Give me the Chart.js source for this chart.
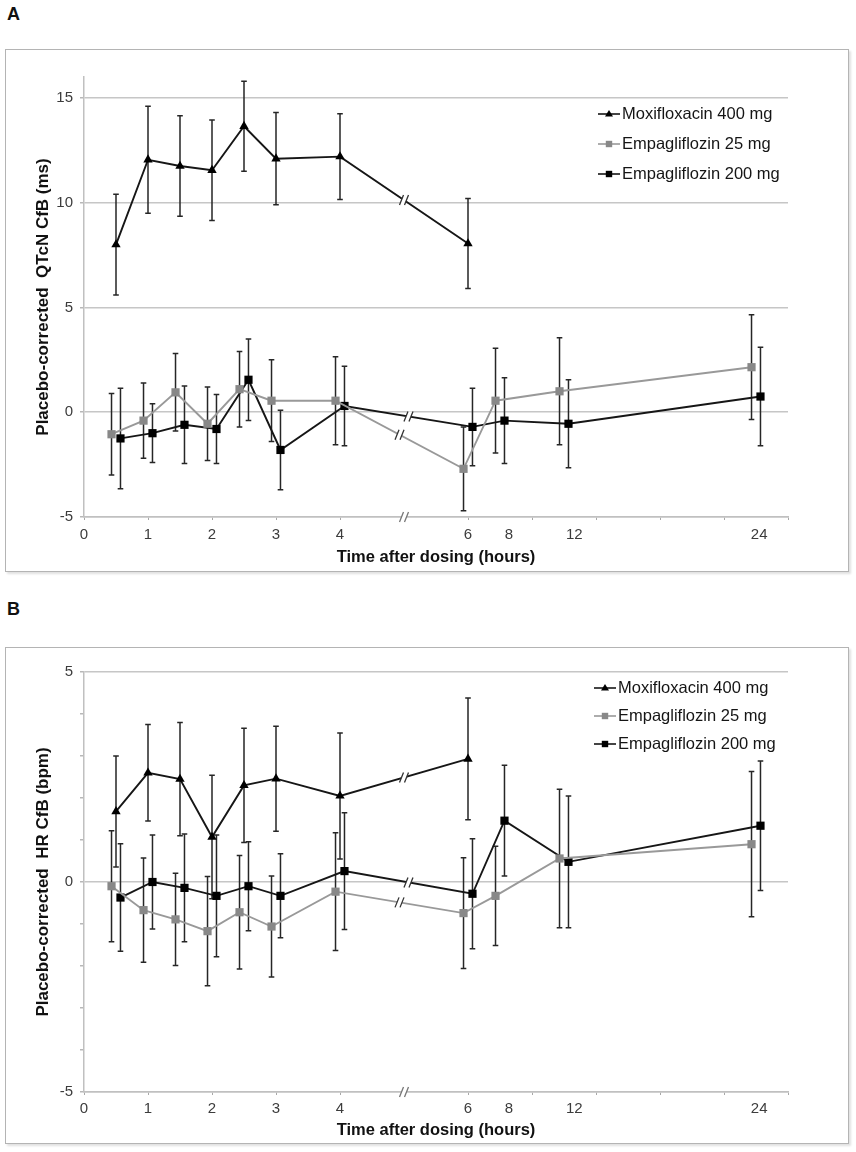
<!DOCTYPE html>
<html>
<head>
<meta charset="utf-8">
<script src="https://cdn.jsdelivr.net/npm/chart.js@4.4.0/dist/chart.umd.min.js"></script>
<style>
  body { margin: 0; background: #fff; width: 856px; height: 1152px; position: relative; font-family: "Liberation Sans", Arial, sans-serif; }
  .panel-label { position: absolute; left: 7px; font-size: 18px; font-weight: bold; line-height: 1; color: #111; }
  .box { position: absolute; left: 5px; width: 842px; border: 1px solid #b4b4b4; box-shadow: 2px 2px 2px rgba(0,0,0,0.12); }
  .box canvas { display: block; }
</style>
</head>
<body>
<div class="panel-label" style="top:5px">A</div>
<div class="box" style="top:49px; height:521px"><canvas id="chartA" width="842" height="521"></canvas></div>
<div class="panel-label" style="top:600px">B</div>
<div class="box" style="top:647px; height:495px"><canvas id="chartB" width="842" height="495"></canvas></div>

<script>
// sampling times (hours)
const hoursEmpa = [0.5, 1, 1.5, 2, 2.5, 3, 4, 6, 8, 12, 24];
const hoursMoxi = [0.5, 1, 1.5, 2, 2.5, 3, 4, 6];

// broken time axis: nominal hours -> axis slot
const axisHours = [0, 1, 2, 3, 4, 6, 8, 12, 24];
const axisSlots = [0, 1, 2, 3, 4, 6, 6.5, 7.5, 10.5];
const tickLabels = ['0', '1', '2', '3', '4', '6', '8', '12', '24'];
const tickLabelSlots = [0, 1, 2, 3, 4, 6, 6.64, 7.66, 10.55];
const tickMarkSlots = [0, 1, 2, 3, 4, 5, 6, 7, 8, 9, 10, 11];

const seriesNames = ['Moxifloxacin 400 mg', 'Empagliflozin 25 mg', 'Empagliflozin 200 mg'];

// Panel A: placebo-corrected QTcN change from baseline (ms), mean and error
const qtMoxi = [8.0, 12.05, 11.75, 11.55, 13.65, 12.1, 12.2, 8.05];
const qtMoxiErr = [2.4, 2.55, 2.4, 2.4, 2.15, 2.2, 2.05, 2.15];
const qtEmpa25 = [-1.05, -0.4, 0.95, -0.55, 1.1, 0.55, 0.55, -2.7, 0.55, 1.0, 2.15];
const qtEmpa25Err = [1.95, 1.8, 1.85, 1.75, 1.8, 1.95, 2.1, 2.0, 2.5, 2.55, 2.5];
const qtEmpa200 = [-1.25, -1.0, -0.6, -0.8, 1.55, -1.8, 0.3, -0.7, -0.4, -0.55, 0.75];
const qtEmpa200Err = [2.4, 1.4, 1.85, 1.65, 1.95, 1.9, 1.9, 1.85, 2.05, 2.1, 2.35];

// Panel B: placebo-corrected HR change from baseline (bpm)
const hrMoxi = [1.68, 2.6, 2.45, 1.07, 2.3, 2.46, 2.05, 2.93];
const hrMoxiErr = [1.32, 1.15, 1.35, 1.47, 1.36, 1.25, 1.5, 1.45];
const hrEmpa25 = [-0.1, -0.67, -0.89, -1.17, -0.72, -1.06, -0.23, -0.74, -0.33, 0.56, 0.9];
const hrEmpa25Err = [1.32, 1.24, 1.1, 1.3, 1.35, 1.2, 1.4, 1.32, 1.18, 1.65, 1.73];
const hrEmpa200 = [-0.37, 0.0, -0.14, -0.33, -0.1, -0.33, 0.26, -0.28, 1.46, 0.48, 1.34];
const hrEmpa200Err = [1.28, 1.12, 1.28, 1.45, 1.06, 1.0, 1.39, 1.31, 1.32, 1.57, 1.54];

const FONT = '"Liberation Sans", Arial, sans-serif';
Chart.defaults.font.family = FONT;

function toSlot(h) {
    for (let i = 0; i < axisHours.length - 1; i++) {
        if (h <= axisHours[i + 1]) {
            const f = (h - axisHours[i]) / (axisHours[i + 1] - axisHours[i]);
            return axisSlots[i] + f * (axisSlots[i + 1] - axisSlots[i]);
        }
    }
    return axisSlots[axisSlots.length - 1];
}

function makeSeries(label, hours, vals, errs, dx, style) {
    return Object.assign({
        label: label,
        hours: hours,
        errors: errs,
        data: hours.map((h, i) => ({ x: toSlot(h) + dx, y: vals[i] })),
        tension: 0,
        borderWidth: 1.9,
        pointBorderWidth: 0,
        fill: false
    }, style);
}

const moxiStyle = { borderColor: '#161616', pointBackgroundColor: '#000', pointBorderColor: '#000', pointStyle: 'triangle', pointRadius: 5.4 };
const empa25Style = { borderColor: '#999999', pointBackgroundColor: '#888888', pointBorderColor: '#888888', pointStyle: 'rect', pointRadius: 5.8 };
const empa200Style = { borderColor: '#161616', pointBackgroundColor: '#000', pointBorderColor: '#000', pointStyle: 'rect', pointRadius: 5.8 };

// vertical error bars with caps
const errorBarPlugin = {
    id: 'errorBars',
    beforeDatasetsDraw(chart) {
        const ctx = chart.ctx;
        const y = chart.scales.y;
        ctx.save();
        ctx.strokeStyle = '#262626';
        ctx.lineWidth = 1.5;
        chart.data.datasets.forEach((ds, i) => {
            const meta = chart.getDatasetMeta(i);
            meta.data.forEach((pt, j) => {
                const v = ds.data[j].y, e = ds.errors[j];
                const top = y.getPixelForValue(v + e), bot = y.getPixelForValue(v - e);
                ctx.beginPath();
                ctx.moveTo(pt.x, top); ctx.lineTo(pt.x, bot);
                ctx.moveTo(pt.x - 2.8, top); ctx.lineTo(pt.x + 2.8, top);
                ctx.moveTo(pt.x - 2.8, bot); ctx.lineTo(pt.x + 2.8, bot);
                ctx.stroke();
            });
        });
        ctx.restore();
    }
};

function drawBreak(ctx, x, y, color) {
    ctx.save();
    ctx.translate(x, y);
    ctx.fillStyle = '#fff';
    ctx.beginPath();
    ctx.moveTo(-4.5, 5); ctx.lineTo(-0.5, -5); ctx.lineTo(4.5, -5); ctx.lineTo(0.5, 5);
    ctx.closePath();
    ctx.fill();
    ctx.strokeStyle = color;
    ctx.lineWidth = 1.3;
    ctx.beginPath();
    ctx.moveTo(-4.5, 5); ctx.lineTo(-0.5, -5);
    ctx.moveTo(0.5, 5); ctx.lineTo(4.5, -5);
    ctx.stroke();
    ctx.restore();
}

// "//" marks where the time axis is broken between 4 h and 6 h
const axisBreakPlugin = {
    id: 'axisBreak',
    afterDatasetsDraw(chart) {
        const ctx = chart.ctx;
        chart.data.datasets.forEach((ds, i) => {
            const a = ds.hours.indexOf(4), b = ds.hours.indexOf(6);
            if (a < 0 || b < 0) return;
            const pts = chart.getDatasetMeta(i).data;
            drawBreak(ctx, (pts[a].x + pts[b].x) / 2, (pts[a].y + pts[b].y) / 2, '#333');
        });
        const xs = chart.scales.x;
        drawBreak(ctx, xs.getPixelForValue((toSlot(4) + toSlot(6)) / 2), chart.chartArea.bottom, '#777');
    }
};

// time labels under the broken axis
const xLabelPlugin = {
    id: 'xLabels',
    afterDraw(chart, args, opts) {
        const ctx = chart.ctx;
        const xs = chart.scales.x;
        ctx.save();
        ctx.font = '15px ' + FONT;
        ctx.fillStyle = '#3c3c3c';
        ctx.textAlign = 'center';
        ctx.textBaseline = 'middle';
        tickLabels.forEach((t, i) => {
            ctx.fillText(t, xs.getPixelForValue(tickLabelSlots[i]), chart.chartArea.bottom + opts.offset);
        });
        ctx.restore();
    }
};

// legend drawn inside the plot area
const insideLegendPlugin = {
    id: 'insideLegend',
    afterDraw(chart, args, opts) {
        const ctx = chart.ctx;
        ctx.save();
        ctx.font = '16.5px ' + FONT;
        ctx.textBaseline = 'middle';
        chart.data.datasets.forEach((ds, i) => {
            const y = opts.y + i * opts.gap;
            const x0 = opts.x;
            ctx.strokeStyle = ds.borderColor;
            ctx.lineWidth = 1.6;
            ctx.beginPath();
            ctx.moveTo(x0, y); ctx.lineTo(x0 + 22, y);
            ctx.stroke();
            ctx.fillStyle = ds.pointBackgroundColor;
            const cx = x0 + 11;
            if (ds.pointStyle === 'triangle') {
                ctx.beginPath();
                ctx.moveTo(cx, y - 4); ctx.lineTo(cx + 4, y + 2.6); ctx.lineTo(cx - 4, y + 2.6);
                ctx.closePath();
                ctx.fill();
            } else {
                ctx.fillRect(cx - 3.2, y - 3.2, 6.4, 6.4);
            }
            ctx.fillStyle = '#151515';
            ctx.fillText(ds.label, x0 + 24, y + 0.5);
        });
        ctx.restore();
    }
};

function drawPanel(id, datasets, p) {
    new Chart(document.getElementById(id), {
        type: 'line',
        data: { datasets: datasets },
        options: {
            responsive: false,
            animation: false,
            events: [],
            layout: { padding: { top: p.padTop, right: 60, left: 0, bottom: 0 } },
            plugins: {
                legend: { display: false },
                tooltip: { enabled: false },
                insideLegend: p.legend,
                xLabels: { offset: p.labelOffset }
            },
            scales: {
                x: {
                    type: 'linear',
                    min: 0,
                    max: 11,
                    afterBuildTicks: s => { s.ticks = tickMarkSlots.map(v => ({ value: v })); },
                    afterFit: s => { s.height = p.xHeight; },
                    ticks: { display: false },
                    grid: { drawOnChartArea: false, color: '#a8a8a8', tickLength: 3, lineWidth: 1 },
                    border: { color: '#c0c0c0', width: 1.5 },
                    title: {
                        display: true,
                        text: 'Time after dosing (hours)',
                        color: '#111',
                        font: { size: 16.5, weight: 'bold' },
                        padding: { top: 0, bottom: p.titlePad }
                    }
                },
                y: {
                    min: p.yMin,
                    max: p.yMax,
                    afterBuildTicks: s => { s.ticks = p.yTicks.map(v => ({ value: v })); },
                    afterFit: s => { s.width = 78; },
                    ticks: {
                        color: '#3c3c3c',
                        font: { size: 15 },
                        padding: 7,
                        callback: v => (v % 5 === 0 ? String(v) : '')
                    },
                    grid: {
                        color: c => (c.tick && c.tick.value % 5 === 0 ? '#c6c6c6' : 'rgba(0,0,0,0)'),
                        tickColor: '#b8b8b8',
                        lineWidth: 1.5,
                        tickLength: 4
                    },
                    border: { color: '#c0c0c0', width: 1.5 },
                    title: {
                        display: true,
                        text: p.yTitle,
                        color: '#111',
                        font: { size: 17, weight: 'bold' },
                        padding: { top: 27, bottom: 0 }
                    }
                }
            }
        },
        plugins: [errorBarPlugin, axisBreakPlugin, xLabelPlugin, insideLegendPlugin]
    });
}

drawPanel('chartA', [
    makeSeries(seriesNames[0], hoursMoxi, qtMoxi, qtMoxiErr, 0, moxiStyle),
    makeSeries(seriesNames[1], hoursEmpa, qtEmpa25, qtEmpa25Err, -0.07, empa25Style),
    makeSeries(seriesNames[2], hoursEmpa, qtEmpa200, qtEmpa200Err, 0.07, empa200Style)
], {
    padTop: 27, xHeight: 54, titlePad: 4, labelOffset: 18,
    yMin: -5, yMax: 16, yTicks: [-5, 0, 5, 10, 15],
    yTitle: 'Placebo-corrected  QTcN CfB (ms)',
    legend: { x: 592, y: 64, gap: 30 }
});

drawPanel('chartB', [
    makeSeries(seriesNames[0], hoursMoxi, hrMoxi, hrMoxiErr, 0, moxiStyle),
    makeSeries(seriesNames[1], hoursEmpa, hrEmpa25, hrEmpa25Err, -0.07, empa25Style),
    makeSeries(seriesNames[2], hoursEmpa, hrEmpa200, hrEmpa200Err, 0.07, empa200Style)
], {
    padTop: 24, xHeight: 51, titlePad: 3, labelOffset: 17,
    yMin: -5, yMax: 5, yTicks: [-5, -4, -3, -2, -1, 0, 1, 2, 3, 4, 5],
    yTitle: 'Placebo-corrected  HR CfB (bpm)',
    legend: { x: 588, y: 40, gap: 28 }
});
</script>
</body>
</html>
